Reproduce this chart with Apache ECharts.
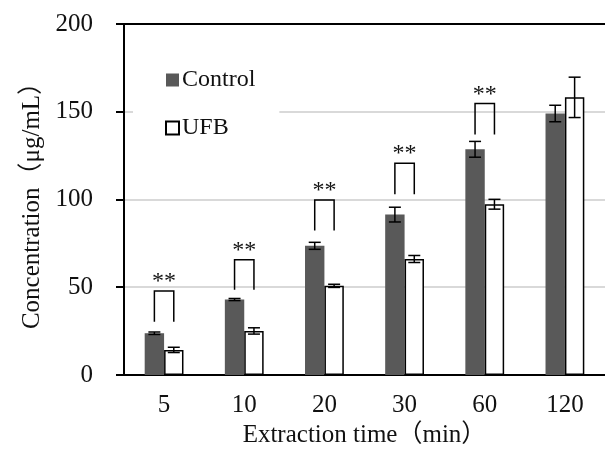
<!DOCTYPE html>
<html>
<head>
<meta charset="utf-8">
<script src="https://cdn.jsdelivr.net/npm/echarts@6/dist/echarts.min.js"></script>
<style>
  html, body { margin: 0; padding: 0; background: #fff; }
  #chart { width: 605px; height: 453px; }
</style>
</head>
<body>
<div id="chart"></div>
<script>
// extraction time categories (min)
const categories = ['5', '10', '20', '30', '60', '120'];
// concentration, ug/mL
const controlMean = [23.8, 43.0, 73.6, 91.4, 128.6, 149.0];
const controlErr = [0.7, 0.6, 2.0, 4.2, 4.5, 4.7];
const ufbMean = [14.3, 25.1, 50.8, 66.1, 97.3, 158.2];
const ufbErr = [1.5, 1.8, 0.9, 2.0, 2.8, 11.5];
// significance brackets (one per category that has one)
const bracketCats = [0, 1, 2, 3, 4];
const bracketTop = [47.8, 65.7, 99.7, 120.7, 154.7];
const bracketBottom = [30.4, 48.6, 82.3, 103.0, 137.0];
const sigLabels = ['**', '**', '**', '**', '**'];

const FONT = '"Liberation Serif", "Times New Roman", "Noto Sans CJK SC", serif';
const BAR_W = 19.4;

var chart = echarts.init(document.getElementById('chart'));

function errorBars(offset) {
    return function (params, api) {
        var i = api.value(0), m = api.value(1), e = api.value(2);
        var hi = api.coord([i, m + e]);
        var lo = api.coord([i, m - e]);
        var cx = hi[0] + offset;
        var st = { stroke: '#000', lineWidth: 1.5 };
        var cap = 6;
        return {
            type: 'group',
            children: [
                { type: 'line', shape: { x1: cx, y1: hi[1], x2: cx, y2: lo[1] }, style: st },
                { type: 'line', shape: { x1: cx - cap, y1: hi[1], x2: cx + cap, y2: hi[1] }, style: st },
                { type: 'line', shape: { x1: cx - cap, y1: lo[1], x2: cx + cap, y2: lo[1] }, style: st }
            ]
        };
    };
}

function bracket(params, api) {
    var i = api.value(0);
    var top = api.coord([i, api.value(1)]);
    var bot = api.coord([i, api.value(2)]);
    var x1 = top[0] - BAR_W / 2, x2 = top[0] + BAR_W / 2;
    return {
        type: 'group',
        children: [
            {
                type: 'polyline',
                shape: { points: [[x1, bot[1]], [x1, top[1]], [x2, top[1]], [x2, bot[1]]] },
                style: { stroke: '#000', lineWidth: 1.5, fill: null }
            },
            {
                type: 'text',
                style: {
                    text: sigLabels[params.dataIndex],
                    x: top[0], y: top[1] + 3,
                    align: 'center', verticalAlign: 'bottom',
                    font: '24px ' + FONT, fill: '#111'
                }
            }
        ]
    };
}

const option = {
    animation: false,
    textStyle: { fontFamily: FONT },
    grid: { left: 124, top: 24, width: 490, height: 353 },
    legend: {
        data: ['Control', 'UFB'],
        orient: 'vertical',
        left: 133,
        top: 40,
        padding: [28, 24, 30, 32],
        backgroundColor: '#fff',
        itemWidth: 13,
        itemHeight: 13,
        itemGap: 24,
        icon: 'rect',
        textStyle: { fontSize: 24, fontFamily: FONT, color: '#111', lineHeight: 24, padding: [0, 0, 0, -2] }
    },
    xAxis: [
        {
            type: 'category',
            data: categories,
            name: 'Extraction time（min）',
            nameLocation: 'middle',
            nameGap: 48,
            nameTextStyle: { fontSize: 25, fontFamily: FONT, color: '#111' },
            axisLine: { lineStyle: { color: '#000', width: 2 } },
            axisTick: { show: false },
            axisLabel: { fontSize: 25, fontFamily: FONT, color: '#111', margin: 18 }
        },
        {
            type: 'category',
            data: categories,
            position: 'top',
            axisLine: { lineStyle: { color: '#000', width: 2 } },
            axisTick: { show: false },
            axisLabel: { show: false }
        }
    ],
    yAxis: {
        type: 'value',
        min: 0,
        max: 200,
        interval: 50,
        name: 'Concentration（μg/mL）',
        nameLocation: 'middle',
        nameGap: 76,
        nameTextStyle: { fontSize: 25, fontFamily: FONT, color: '#111' },
        axisLine: { show: true, lineStyle: { color: '#000', width: 2 } },
        axisTick: { show: true, length: 8, lineStyle: { color: '#000', width: 2 } },
        axisLabel: { fontSize: 25, fontFamily: FONT, color: '#111', margin: 31 },
        splitLine: { lineStyle: { color: '#d9d9d9', width: 2 } }
    },
    series: [
        {
            name: 'Control',
            type: 'bar',
            data: controlMean,
            barWidth: BAR_W,
            barGap: '0%',
            itemStyle: { color: '#595959' }
        },
        {
            name: 'UFB',
            type: 'bar',
            data: ufbMean,
            barWidth: BAR_W,
            itemStyle: { color: '#fff', borderColor: '#000', borderWidth: 1.5 }
        },
        {
            type: 'custom',
            z: 5,
            renderItem: errorBars(-BAR_W / 2),
            data: categories.map(function (c, i) { return [i, controlMean[i], controlErr[i]]; })
        },
        {
            type: 'custom',
            z: 5,
            renderItem: errorBars(BAR_W / 2),
            data: categories.map(function (c, i) { return [i, ufbMean[i], ufbErr[i]]; })
        },
        {
            type: 'custom',
            z: 5,
            renderItem: bracket,
            data: bracketCats.map(function (c, i) { return [c, bracketTop[i], bracketBottom[i]]; })
        }
    ]
};
chart.setOption(option);
window.addEventListener('resize', function () {
    chart.resize();
});
</script>
</body>
</html>
